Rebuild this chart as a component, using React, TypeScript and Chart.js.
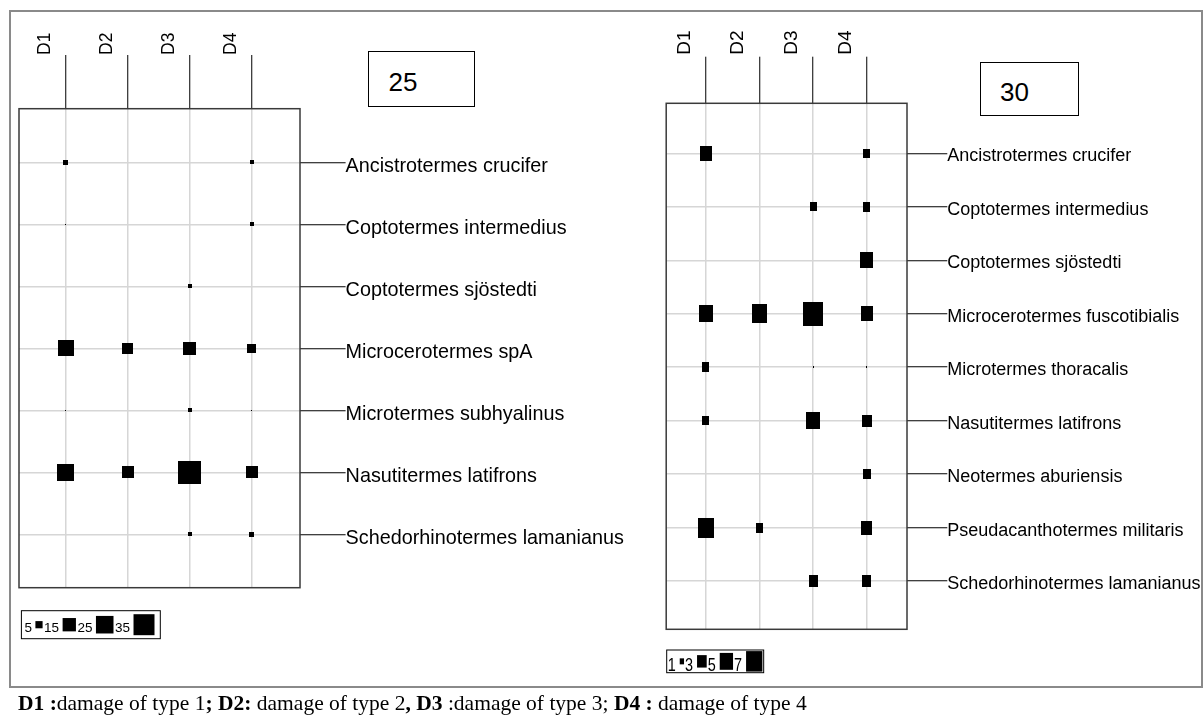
import React, { useEffect, useRef } from 'react';
import { Chart, registerables } from 'chart.js';

Chart.register(...registerables);

// ---------- data ----------
const damageTypes = ['D1', 'D2', 'D3', 'D4'];

const species25 = [
  'Ancistrotermes crucifer',
  'Coptotermes intermedius',
  'Coptotermes sjöstedti',
  'Microcerotermes spA',
  'Microtermes subhyalinus',
  'Nasutitermes latifrons',
  'Schedorhinotermes lamanianus',
];
// values per species row, columns D1..D4
const ancistrotermes25 = [2.7, 0, 0, 1.6];
const coptoIntermedius25 = [0.34, 0, 0, 1.8];
const coptoSjostedti25 = [0, 0, 2.0, 0];
const microcerotermes25 = [21, 11, 14, 7.5];
const microtermes25 = [0.34, 0, 1.9, 0.34];
const nasutitermes25 = [23, 13, 40, 13];
const schedorhinotermes25 = [0, 0, 1.9, 2.7];
const values25 = [
  ancistrotermes25,
  coptoIntermedius25,
  coptoSjostedti25,
  microcerotermes25,
  microtermes25,
  nasutitermes25,
  schedorhinotermes25,
];
const legend25 = [5, 15, 25, 35];

const species30 = [
  'Ancistrotermes crucifer',
  'Coptotermes intermedius',
  'Coptotermes sjöstedti',
  'Microcerotermes fuscotibialis',
  'Microtermes thoracalis',
  'Nasutitermes latifrons',
  'Neotermes aburiensis',
  'Pseudacanthotermes militaris',
  'Schedorhinotermes lamanianus',
];
const ancistrotermes30 = [4, 0, 0, 1.9];
const coptoIntermedius30 = [0, 0, 1.7, 2];
const coptoSjostedti30 = [0, 0, 0, 4.8];
const microcerotermes30 = [5.2, 6.4, 9.5, 4];
const microtermes30 = [2, 0, 0.3, 0.3];
const nasutitermes30 = [1.9, 0, 5.2, 3];
const neotermes30 = [0, 0, 0, 2.1];
const pseudacanthotermes30 = [6.5, 2, 0, 3.8];
const schedorhinotermes30 = [0, 0, 2.9, 2.9];
const values30 = [
  ancistrotermes30,
  coptoIntermedius30,
  coptoSjostedti30,
  microcerotermes30,
  microtermes30,
  nasutitermes30,
  neotermes30,
  pseudacanthotermes30,
  schedorhinotermes30,
];
const legend30 = [1, 3, 5, 7];

// ---------- styling / layout ----------
const SANS = '"Liberation Sans", Arial, sans-serif';

const size25 = (v: number): [number, number] => {
  const s = Math.max(1, 3.75 * Math.sqrt(v) - 1.2);
  return [s, s];
};
const size30 = (v: number): [number, number] => [
  Math.max(1, 7.3 * Math.sqrt(v) - 3),
  Math.max(1, 8.8 * Math.sqrt(v) - 2.8),
];

type Panel = {
  left: number;
  width: number;
  height: number;
  species: string[];
  values: number[][];
  sizeFn: (v: number) => [number, number];
  area: { left: number; top: number; right: number; bottom: number };
  xRange: [number, number];
  yRange: [number, number];
  xTickLen: number;
  xPad: number;
  xFont: number;
  xLabelOffset: number;
  yTickLen: number;
  yFont: number;
  yLabelOffset: number;
  legendValues: number[];
  legend: {
    x: number;
    y: number;
    h: number;
    padL: number;
    padR: number;
    gapTR: number;
    gapRT: number;
    font: number;
    scaleX: number;
    baseline: number;
  };
};

const panels: Panel[] = [
  {
    left: 0,
    width: 660,
    height: 716,
    species: species25,
    values: values25,
    sizeFn: size25,
    area: { left: 19, top: 108.7, right: 300, bottom: 587.7 },
    xRange: [-0.755, 3.777],
    yRange: [-0.865, 6.862],
    xTickLen: 53.7,
    xPad: 0,
    xFont: 17.5,
    xLabelOffset: 0.8,
    yTickLen: 45.6,
    yFont: 19.8,
    yLabelOffset: 4,
    legendValues: legend25,
    legend: { x: 21.4, y: 610.7, h: 28, padL: 3, padR: 5.8, gapTR: 3.5, gapRT: 1.5, font: 13.5, scaleX: 1, baseline: 21.6 },
  },
  {
    left: 600,
    width: 603,
    height: 716,
    species: species30,
    values: values30,
    sizeFn: size30,
    area: { left: 66.2, top: 103.3, right: 307, bottom: 629.3 },
    xRange: [-0.74, 3.75],
    yRange: [-0.935, 8.9],
    xTickLen: 46.6,
    xPad: 2,
    xFont: 19,
    xLabelOffset: 1.5,
    yTickLen: 40.3,
    yFont: 18,
    yLabelOffset: 3,
    legendValues: legend30,
    legend: { x: 66.7, y: 650, h: 22.7, padL: 1, padR: 1.3, gapTR: 4, gapRT: 1, font: 18.5, scaleX: 0.78, baseline: 21.3 },
  },
];

function rectImage(w: number, h: number): HTMLCanvasElement {
  const c = document.createElement('canvas');
  c.width = Math.max(1, Math.round(w));
  c.height = Math.max(1, Math.round(h));
  const g = c.getContext('2d')!;
  g.fillStyle = '#000';
  g.fillRect(0, 0, c.width, c.height);
  return c;
}

function PanelChart({ p }: { p: Panel }) {
  const ref = useRef<HTMLCanvasElement | null>(null);

  useEffect(() => {
    const canvas = ref.current;
    if (!canvas) return;

    const points: { x: number; y: number }[] = [];
    const styles: HTMLCanvasElement[] = [];
    p.values.forEach((row, r) => {
      row.forEach((v, c) => {
        if (v > 0) {
          points.push({ x: c, y: r });
          const [w, h] = p.sizeFn(v);
          styles.push(rectImage(w, h));
        }
      });
    });

    const boxPlugin = {
      id: 'plotBox',
      beforeDatasetsDraw(chart: any) {
        const { ctx, chartArea: a } = chart;
        ctx.save();
        ctx.strokeStyle = '#3a3a3a';
        ctx.lineWidth = 1.5;
        ctx.strokeRect(a.left, a.top, a.right - a.left, a.bottom - a.top);
        ctx.restore();
      },
    };

    const legendPlugin = {
      id: 'sizeLegend',
      afterDraw(chart: any) {
        const { ctx } = chart;
        const L = p.legend;
        ctx.save();
        ctx.font = `${L.font}px ${SANS}`;
        ctx.textBaseline = 'alphabetic';
        ctx.fillStyle = '#000';
        let x = L.x + L.padL;
        const cy = L.y + L.h / 2;
        p.legendValues.forEach((v, i) => {
          const label = String(v);
          const tw = ctx.measureText(label).width * L.scaleX;
          ctx.save();
          ctx.translate(x, L.y + L.baseline);
          ctx.scale(L.scaleX, 1);
          ctx.fillText(label, 0, 0);
          ctx.restore();
          x += tw + L.gapTR;
          const [w, h] = p.sizeFn(v);
          ctx.fillRect(x, cy - h / 2, w, h);
          x += w;
          if (i < p.legendValues.length - 1) x += L.gapRT;
        });
        x += L.padR;
        ctx.strokeStyle = '#000';
        ctx.lineWidth = 1;
        ctx.strokeRect(L.x, L.y, x - L.x, L.h);
        ctx.restore();
      },
    };

    const chart = new Chart(canvas, {
      type: 'scatter',
      data: {
        datasets: [
          {
            data: points,
            pointStyle: styles as any,
            pointRadius: 3,
            pointHoverRadius: 3,
            backgroundColor: '#000',
            borderColor: '#000',
            borderWidth: 0,
          },
        ],
      },
      options: {
        animation: false,
        responsive: false,
        maintainAspectRatio: false,
        events: [],
        layout: {
          padding: { left: p.area.left, top: 0, right: 0, bottom: p.height - p.area.bottom },
        },
        plugins: { legend: { display: false }, tooltip: { enabled: false } },
        scales: {
          x: {
            type: 'linear',
            position: 'top',
            min: p.xRange[0],
            max: p.xRange[1],
            afterBuildTicks: (s: any) => {
              s.ticks = damageTypes.map((_, i) => ({ value: i }));
            },
            afterFit: (s: any) => {
              s.height = p.area.top;
            },
            ticks: {
              autoSkip: false,
              minRotation: 90,
              maxRotation: 90,
              padding: p.xPad,
              labelOffset: p.xLabelOffset,
              color: '#000',
              font: { family: SANS, size: p.xFont },
              callback: (v: any) => damageTypes[Math.round(Number(v))],
            },
            grid: {
              color: '#d6d6d6',
              lineWidth: 1.5,
              tickColor: '#000',
              tickWidth: 1,
              tickLength: p.xTickLen,
            },
            border: { display: false },
          },
          y: {
            type: 'linear',
            position: 'right',
            reverse: true,
            min: p.yRange[0],
            max: p.yRange[1],
            afterBuildTicks: (s: any) => {
              s.ticks = p.species.map((_, i) => ({ value: i }));
            },
            afterFit: (s: any) => {
              s.width = p.width - p.area.right;
            },
            ticks: {
              autoSkip: false,
              padding: 0,
              labelOffset: p.yLabelOffset,
              color: '#000',
              font: { family: SANS, size: p.yFont },
              callback: (v: any) => p.species[Math.round(Number(v))],
            },
            grid: {
              color: '#d6d6d6',
              lineWidth: 1.5,
              tickColor: '#000',
              tickWidth: 1,
              tickLength: p.yTickLen,
            },
            border: { display: false },
          },
        },
      } as any,
      plugins: [boxPlugin, legendPlugin],
    });

    return () => chart.destroy();
  }, [p]);

  return (
    <canvas
      ref={ref}
      width={p.width}
      height={p.height}
      style={{ position: 'absolute', left: p.left, top: 0, width: p.width, height: p.height }}
    />
  );
}

function LabelBox({ left, top, w, h, text, textLeft, textTop }: { left: number; top: number; w: number; h: number; text: string; textLeft: number; textTop: number }) {
  return (
    <>
      <div
        style={{
          position: 'absolute',
          left,
          top,
          width: w,
          height: h,
          border: '1.5px solid #000',
          boxSizing: 'border-box',
          background: '#fff',
        }}
      />
      <span
        style={{
          position: 'absolute',
          left: textLeft,
          top: textTop,
          font: `26px ${SANS}`,
          lineHeight: '26px',
          color: '#000',
          whiteSpace: 'nowrap',
        }}
      >
        {text}
      </span>
    </>
  );
}

export default function App() {
  return (
    <div
      style={{
        position: 'fixed',
        left: 0,
        top: 0,
        width: 1203,
        height: 716,
        background: '#fff',
        overflow: 'hidden',
      }}
    >
      <div
        style={{
          position: 'absolute',
          left: 9,
          top: 10,
          width: 1194,
          height: 678,
          border: '2px solid #8a8a8a',
          boxSizing: 'border-box',
        }}
      />
      {panels.map((p, i) => (
        <PanelChart key={i} p={p} />
      ))}
      <LabelBox left={368} top={51} w={107} h={56} text="25" textLeft={388.5} textTop={68.7} />
      <LabelBox left={980} top={61.7} w={99} h={54.3} text="30" textLeft={1000} textTop={79} />
      <div
        style={{
          position: 'absolute',
          left: 18,
          top: 693,
          font: '21.5px "Liberation Serif", "Times New Roman", serif',
          lineHeight: '21.5px',
          color: '#000',
          whiteSpace: 'nowrap',
        }}
      >
        <b>D1 :</b>damage of type 1<b>; D2:</b> damage of type 2<b>, D3</b> :damage of type 3; <b>D4 :</b> damage of type 4
      </div>
    </div>
  );
}
